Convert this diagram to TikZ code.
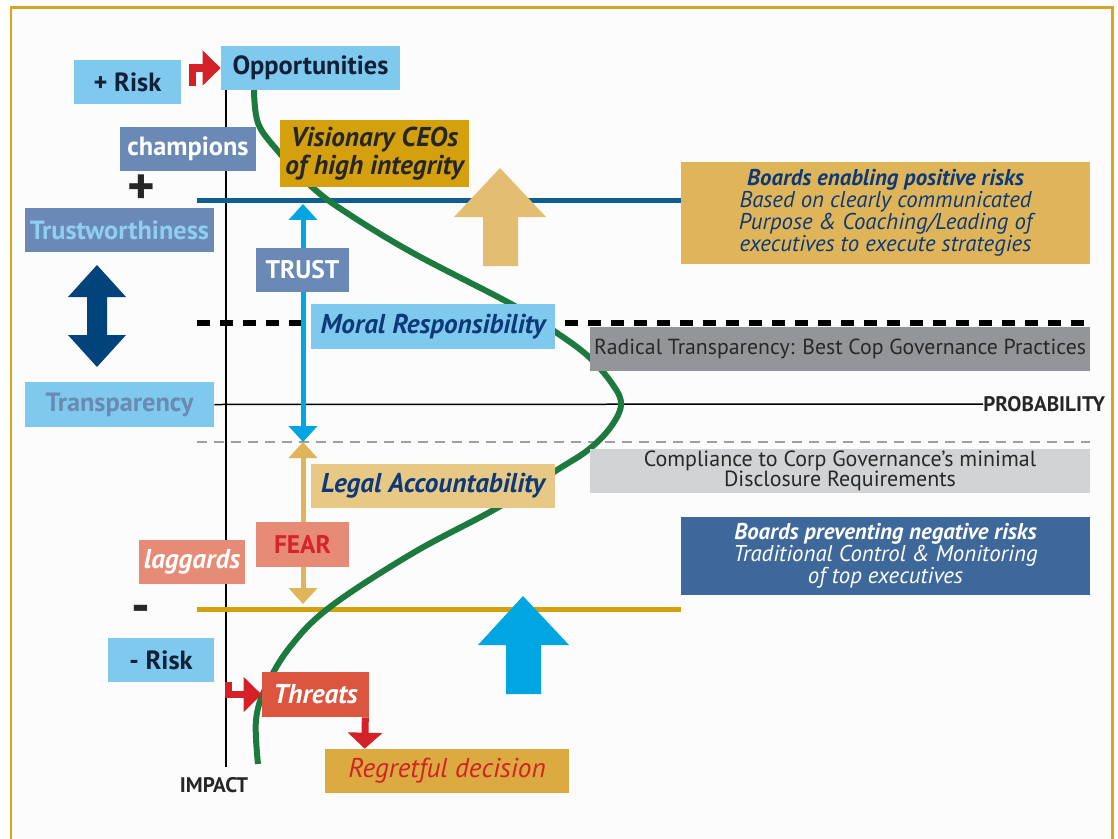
\documentclass[tikz,border=0pt]{standalone}
\usepackage{fontspec}
\setmainfont{PT Sans}
\usetikzlibrary{arrows.meta,positioning,calc,backgrounds}

\definecolor{skyblue}{RGB}{127,201,238}
\definecolor{slateblue}{RGB}{106,137,180}
\definecolor{darkink}{RGB}{16,32,56}
\definecolor{navyink}{RGB}{12,58,120}
\definecolor{paleblue}{RGB}{142,206,240}
\definecolor{visgold}{RGB}{212,160,14}
\definecolor{sandgold}{RGB}{224,181,90}
\definecolor{sandarrow}{RGB}{227,190,114}
\definecolor{legalsand}{RGB}{232,200,133}
\definecolor{midgray}{RGB}{147,149,152}
\definecolor{lightgray}{RGB}{210,211,213}
\definecolor{inkgray}{RGB}{40,40,40}
\definecolor{boardblue}{RGB}{62,104,153}
\definecolor{salmonred}{RGB}{230,140,118}
\definecolor{fearred}{RGB}{215,35,43}
\definecolor{threatred}{RGB}{220,85,63}
\definecolor{regretgold}{RGB}{219,170,64}
\definecolor{arrowred}{RGB}{212,32,39}
\definecolor{curvegreen}{RGB}{29,122,62}
\definecolor{cyanblue}{RGB}{0,165,226}
\definecolor{deepblue}{RGB}{1,68,123}
\definecolor{lineblue}{RGB}{13,94,147}
\definecolor{linegold}{RGB}{212,160,14}
\definecolor{framegold}{RGB}{217,165,33}
\definecolor{paper}{RGB}{252,252,252}

\begin{document}
\begin{tikzpicture}[x=0.02cm, y=-0.02cm,
    box/.style={inner sep=0pt, minimum height=0.88cm, align=center,
        font=\fontsize{15}{15.9}\selectfont\bfseries},
    bi/.style={font=\fontsize{15.5}{15.9}\selectfont\bfseries\itshape},
    caps/.style={font=\fontsize{14.5}{15.9}\selectfont\bfseries},
    skybox/.style={box, fill=skyblue, text=darkink},
    slatebox/.style={box, fill=slateblue, text=white},
    salmonbox/.style={box, fill=salmonred, text=white},
    panel/.style={inner sep=0pt, align=center, minimum width=8.18cm,
        font=\fontsize{13}{12.6}\selectfont\itshape},
    bar/.style={inner sep=0pt, minimum height=0.88cm, minimum width=10cm,
        align=center, text=inkgray, font=\fontsize{12.4}{12}\selectfont},
    redarrow/.style={draw=arrowred, line width=0.15cm,
        -{Triangle[width=0.68cm,length=0.36cm]}},
    axislabel/.style={inner sep=0pt, text=black!85,
        font=\fontsize{12}{12}\selectfont\bfseries},
    sign/.style={font=\fontsize{30}{30}\selectfont\bfseries, text=black!85}]
    \useasboundingbox (0,0) rectangle (1118,838);

    % Left column
    \node[skybox, minimum width=2.14cm] (plusrisk) at (127.5,82) {+ Risk};
    \node[skybox, minimum width=3.58cm] (opport) at (310.5,68) {Opportunities};
    \node[slatebox, minimum width=2.72cm] (champions) at (188,149) {champions};
    \node[sign] (plus) at (141,190) {+};
    \node[slatebox, text=paleblue, minimum width=3.78cm] (trustw) at (119.5,230) {Trustworthiness};
    \node[skybox, text=slateblue, minimum width=3.78cm, minimum height=0.9cm] (transp) at (119.5,404.5) {Transparency};
    \node[salmonbox, bi, minimum width=2.12cm] (laggards) at (192,562) {laggards};
    \node[sign] (minus) at (141,614) {-};
    \node[skybox, minimum width=2.12cm] (minusrisk) at (161,660) {- Risk};

    % Middle column
    \node[box, bi, fill=visgold, text=black!85, minimum width=3.78cm, minimum height=1.36cm] (visionary) at (374.5,153.5) {Visionary CEOs\\of high integrity};
    \node[slatebox, caps, minimum width=1.86cm] (trust) at (302.5,270) {TRUST};
    \node[skybox, bi, text=navyink, minimum width=4.88cm, minimum height=0.9cm] (moral) at (433,326.5) {Moral Responsibility};
    \node[box, bi, fill=legalsand, text=navyink, minimum width=4.88cm] (legal) at (433,486) {Legal Accountability};
    \node[box, caps, fill=salmonred, text=fearred, minimum width=1.86cm, minimum height=0.9cm] (fear) at (302.5,544.5) {FEAR};
    \node[box, bi, fill=threatred, text=white, minimum width=2.14cm, minimum height=0.9cm] (threats) at (315.5,694.5) {Threats};
    \node[box, fill=regretgold, text=arrowred, minimum width=4.88cm,
        font=\fontsize{15.5}{15.9}\selectfont\itshape] (regret) at (447,771) {Regretful decision};

    % Right column
    \node[panel, fill=sandgold, text=navyink, minimum height=2.04cm] (enabling) at (885.5,213)
        {\textbf{Boards enabling positive risks}\\Based on clearly communicated\\Purpose \& Coaching/Leading of\\executives to execute strategies};
    \node[bar, fill=midgray] (radical) at (840,349) {Radical Transparency: Best Cop Governance Practices};
    \node[bar, fill=lightgray, font=\fontsize{12.5}{11.5}\selectfont] (compliance) at (840,471)
        {Compliance to Corp Governance’s minimal\\Disclosure Requirements};
    \node[panel, fill=boardblue, text=white, minimum height=1.56cm] (preventing) at (885.5,556)
        {\textbf{Boards preventing negative risks}\\Traditional Control \& Monitoring\\of top executives};

    % Axis labels
    \node[axislabel, anchor=west] (prob) at (983,404) {PROBABILITY};
    \node[axislabel] (impact) at (214,785) {IMPACT};

    % Meeting points of the double arrows
    \coordinate (hitop) at (303,204);
    \coordinate (gate) at (303,442);
    \coordinate (lobot) at (303,604);

    \begin{scope}[on background layer]
        % Frame
        \fill[white] (0,0) rectangle (1118,838);
        \draw[framegold, line width=0.06cm, fill=paper] (11,8) rectangle (1112,870);

        % Axes
        \draw[line width=0.03cm] (226,90) -- (226,767);
        \draw[line width=0.03cm] (transp.east) -- (prob.west);

        % Threshold lines
        \draw[lineblue, line width=0.1cm] (197,200) -- ($(enabling.west)+(0,-13)$);
        \draw[linegold, line width=0.1cm] (197,609) -- (681,609);
        \draw[line width=0.12cm, dash pattern=on 0.26cm off 0.2cm] (197,323) -- (1090,323);
        \draw[gray!75, line width=0.04cm, dash pattern=on 0.2cm off 0.14cm] (197,442) -- (1090,442);

        % Risk curve
        \draw[curvegreen, line width=0.12cm] plot[smooth, tension=0.6] coordinates {
            (254,90) (258,123) (277,150) (312,187) (347,213) (413,253) (513,305)
            (557,333) (589,357) (613,385) (621,405) (610,428) (588,450) (557,470)
            (497,508) (413,553) (330,607) (290,647) (266,687) (256,720) (258,764)};

        % Fat arrows
        \fill[deepblue] (97,265) -- (126,297) -- (107,297) -- (107,335) -- (126,335) -- (97,367)
            -- (68,335) -- (87,335) -- (87,297) -- (68,297) -- cycle;
        \fill[sandarrow] (500,168) -- (546,217) -- (518,217) -- (518,266) -- (483,266) -- (483,217) -- (454,217) -- cycle;
        \fill[cyanblue] (523,596) -- (569,645) -- (541,645) -- (541,694) -- (506,694) -- (506,645) -- (478,645) -- cycle;

        % Trust and fear arrows
        \draw[cyanblue, line width=0.1cm, {Triangle[width=0.56cm,length=0.32cm]}-{Triangle[width=0.56cm,length=0.32cm]}] (hitop) -- (gate);
        \draw[sandgold, line width=0.1cm, {Triangle[width=0.56cm,length=0.32cm]}-{Triangle[width=0.56cm,length=0.32cm]}] (gate) -- (lobot);
    \end{scope}

    % Red arrows
    \draw[redarrow] ($(plusrisk.east)+(11,4)$) |- (opport.west);
    \draw[redarrow] ($(threats.west)+(-33,-13)$) |- (threats.west);
    \draw[redarrow, -{Triangle[width=0.68cm,length=0.32cm]}, line width=0.14cm]
        ($(threats.south east)+(-4,0)$) -- ($(regret.north west)+(40,0)$);
\end{tikzpicture}
\end{document}
